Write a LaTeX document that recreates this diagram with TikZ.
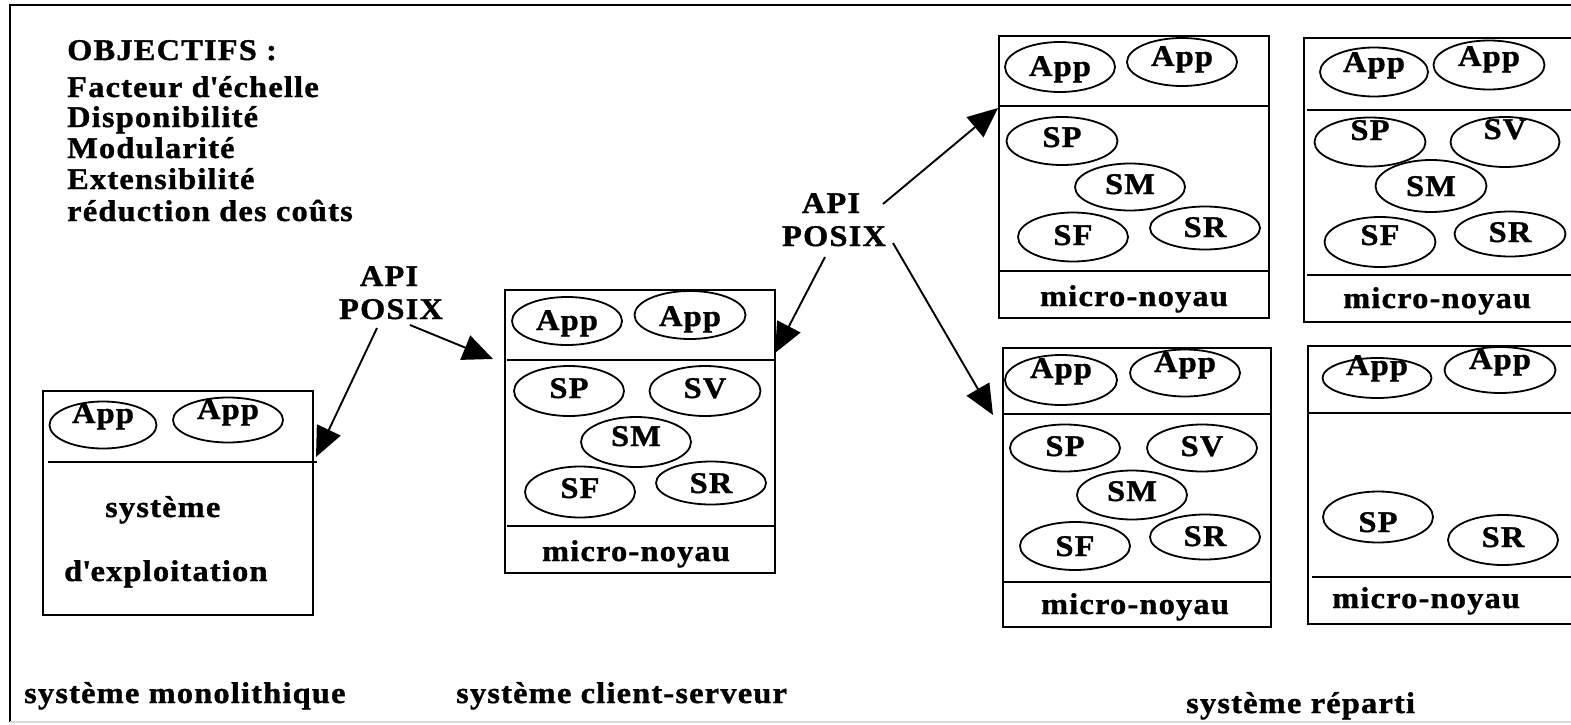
\documentclass[tikz,border=0pt]{standalone}
\usepackage{fontspec}
\setmainfont{Liberation Serif}[FakeStretch=1.08, LetterSpace=4, BoldFeatures={FakeBold=1.2}]
\usetikzlibrary{arrows.meta,shapes.geometric}
\tikzset{
  every node/.style={font=\fontsize{30}{31}\selectfont\bfseries, inner sep=0pt},
  txt/.style={anchor=base},
  txtl/.style={anchor=base west},
  ell/.style={draw, ellipse, line width=1.8pt, minimum width=110pt, minimum height=48pt, inner sep=0pt},
  boxst/.style={draw, rectangle, line width=2.2pt, anchor=north west, inner sep=0pt},
  divl/.style={line width=2.2pt},
  arr/.style={line width=1.9pt, -{Triangle[length=30pt,width=26pt]}},
}
\newcommand{\ellip}[7]{% name, x, y, w, h, text, baseline
  \node[ell, minimum width=#4pt, minimum height=#5pt] (#1) at (#2,#3) {};
  \node[txt] (#1t) at (#2,#7) {#6};
}
\begin{document}
\begin{tikzpicture}[x=1pt,y=-1pt]
\useasboundingbox (0,0) rectangle (1571,725);
\clip (0,0) rectangle (1571,725);
% frame
\draw[line width=2.2pt] (1575,5) -- (10,5) -- (10,722);
\draw[line width=1.5pt, black!15] (10,722) -- (1575,722);

% objectives
\node[txtl] (o1) at (67,60) {OBJECTIFS :};
\node[txtl] (o2) at (67,97) {Facteur d\textquotesingle échelle};
\node[txtl] (o3) at (67,127) {Disponibilité};
\node[txtl] (o4) at (67,158) {Modularité};
\node[txtl] (o5) at (67,189) {Extensibilité};
\node[txtl] (o6) at (67,221) {réduction des coûts};

% box 1
\node[boxst, minimum width=270pt, minimum height=224pt] (b1) at (42,390) {};
\draw[divl] (48,462) -- (317,462);
\ellip{b1a}{103}{425}{107}{47}{App}{423}
\ellip{b1b}{228}{420}{110}{45}{App}{419}
\node[txtl] (b1s) at (105,517) {système};
\node[txtl] (b1e) at (64,581) {d\textquotesingle exploitation};

% box 2
\node[boxst, minimum width=270pt, minimum height=283pt] (b2) at (504,289) {};
\draw[divl] (507,360) -- (776,360);
\draw[divl] (507,526) -- (776,526);
\ellip{b2a}{567}{321}{110}{48}{App}{330}
\ellip{b2b}{690}{315}{111}{48}{App}{326}
\ellip{b2p}{569}{391}{110}{50}{SP}{398}
\ellip{b2v}{705}{391}{111}{50}{SV}{398}
\ellip{b2m}{636}{442}{110}{50}{SM}{446}
\ellip{b2f}{580}{492}{110}{51}{SF}{498}
\ellip{b2r}{711}{483}{110}{43}{SR}{493}
\node[txt] (b2n) at (636,561) {micro-noyau};

% box 3
\node[boxst, minimum width=270pt, minimum height=282pt] (b3) at (998,35) {};
\draw[divl] (1000,106) -- (1270,106);
\draw[divl] (1000,271) -- (1270,271);
\ellip{b3a}{1060}{67}{110}{50}{App}{76}
\ellip{b3b}{1182}{62}{110}{48}{App}{66}
\ellip{b3p}{1062}{141}{111}{48}{SP}{147}
\ellip{b3m}{1130}{187}{110}{47}{SM}{194}
\ellip{b3f}{1073}{237}{110}{49}{SF}{245}
\ellip{b3r}{1205}{228}{110}{43}{SR}{237}
\node[txt] (b3n) at (1134,306) {micro-noyau};

% box 4
\node[boxst, minimum width=268pt, minimum height=279pt] (b4) at (1002,347) {};
\draw[divl] (1004,414) -- (1272,414);
\draw[divl] (1004,582) -- (1272,582);
\ellip{b4a}{1061}{380}{112}{50}{App}{378}
\ellip{b4b}{1185}{373}{110}{47}{App}{372}
\ellip{b4p}{1065}{448}{110}{47}{SP}{456}
\ellip{b4v}{1202}{448}{110}{47}{SV}{456}
\ellip{b4m}{1132}{495}{110}{49}{SM}{501}
\ellip{b4f}{1075}{546}{110}{48}{SF}{556}
\ellip{b4r}{1205}{537}{110}{45}{SR}{546}
\node[txt] (b4n) at (1135,614) {micro-noyau};

% box 5
\node[boxst, minimum width=290pt, minimum height=284pt] (b5) at (1303,37) {};
\draw[divl] (1307,110) -- (1600,110);
\draw[divl] (1307,275) -- (1600,275);
\ellip{b5a}{1374}{72}{108}{49}{App}{72}
\ellip{b5b}{1489}{65}{111}{49}{App}{66}
\ellip{b5p}{1370}{142}{111}{49}{SP}{140}
\ellip{b5v}{1505}{142}{109}{50}{SV}{139}
\ellip{b5m}{1431}{186}{111}{52}{SM}{196}
\ellip{b5f}{1380}{242}{111}{50}{SF}{245}
\ellip{b5r}{1510}{234}{111}{45}{SR}{242}
\node[txtl] (b5n) at (1343,308) {micro-noyau};

% box 6
\node[boxst, minimum width=290pt, minimum height=278pt] (b6) at (1307,345) {};
\draw[divl] (1309,413) -- (1600,413);
\draw[divl] (1312,577) -- (1600,577);
\ellip{b6a}{1377}{378}{109}{40}{App}{375}
\ellip{b6b}{1500}{370}{111}{46}{App}{369}
\ellip{b6p}{1378}{517}{110}{51}{SP}{532}
\ellip{b6r}{1503}{540}{110}{50}{SR}{547}
\node[txtl] (b6n) at (1332,608) {micro-noyau};

% API labels
\node[txt] (api1a) at (389,286) {API};
\node[txt] (api1b) at (391,319) {POSIX};
\node[txt] (api2a) at (831,213) {API};
\node[txt] (api2b) at (834,246) {POSIX};

% arrows
\coordinate (s1) at (377,328); \coordinate (t1) at (316,457);
\coordinate (s2) at (410,325); \coordinate (t2) at (493,359);
\coordinate (s3) at (825,257); \coordinate (t3) at (775,353);
\coordinate (s4) at (883,204); \coordinate (t4) at (998,108);
\coordinate (s5) at (893,243); \coordinate (t5) at (993,415);
\draw[arr] (s1) -- (t1);
\draw[arr] (s2) -- (t2);
\draw[arr] (s3) -- (t3);
\draw[arr] (s4) -- (t4);
\draw[arr] (s5) -- (t5);

% bottom labels
\node[txtl] (l1) at (24,703) {système monolithique};
\node[txtl] (l2) at (456,703) {système client-serveur};
\node[txtl] (l3) at (1186,713) {système réparti};
\end{tikzpicture}
\end{document}
